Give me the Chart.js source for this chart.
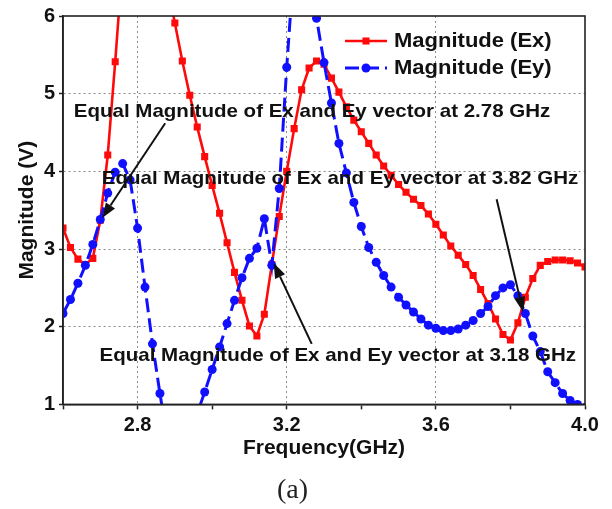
<!DOCTYPE html>
<html><head><meta charset="utf-8">
<script src="https://cdn.jsdelivr.net/npm/chart.js@4.4.0/dist/chart.umd.min.js"></script>
<style>html,body{margin:0;padding:0;background:#fff;}#wrap{width:612px;height:509px;}</style>
</head><body><div id="wrap"><canvas id="c" width="612" height="509"></canvas></div>
<script>
// ---- data ----
const freq = [2.60,2.62,2.64,2.66,2.68,2.70,2.72,2.74,2.76,2.78,2.80,2.82,2.84,2.86,2.88,2.90,2.92,2.94,2.96,2.98,
  3.00,3.02,3.04,3.06,3.08,3.10,3.12,3.14,3.16,3.18,3.20,3.22,3.24,3.26,3.28,3.30,3.32,3.34,3.36,3.38,
  3.40,3.42,3.44,3.46,3.48,3.50,3.52,3.54,3.56,3.58,3.60,3.62,3.64,3.66,3.68,3.70,3.72,3.74,3.76,3.78,
  3.80,3.82,3.84,3.86,3.88,3.90,3.92,3.94,3.96,3.98,4.00];
const exMag = [3.27,3.02,2.87,2.80,2.88,3.37,4.21,5.41,6.7,7.3,7.6,7.6,7.3,6.9,6.4,5.91,5.42,4.98,4.57,4.19,
  3.82,3.46,3.08,2.70,2.34,2.01,1.88,2.16,2.80,3.42,4.00,4.55,5.05,5.33,5.42,5.38,5.20,5.02,4.83,4.66,
  4.51,4.36,4.21,4.07,3.95,3.83,3.73,3.64,3.56,3.45,3.32,3.18,3.04,2.92,2.80,2.66,2.48,2.30,2.10,1.90,
  1.83,2.05,2.38,2.62,2.79,2.84,2.86,2.86,2.85,2.82,2.77];
const eyMag = [2.17,2.35,2.56,2.79,3.06,3.38,3.72,3.99,4.10,3.89,3.27,2.51,1.78,1.14,0.55,0.2,0.05,0.2,0.88,1.16,
  1.45,1.74,2.04,2.34,2.63,2.88,3.01,3.39,2.79,3.78,5.34,6.7,7.1,6.5,5.97,5.40,4.88,4.36,3.98,3.60,
  3.29,3.02,2.83,2.66,2.51,2.38,2.28,2.19,2.10,2.02,1.98,1.95,1.95,1.97,2.02,2.08,2.17,2.26,2.40,2.50,
  2.54,2.40,2.17,1.88,1.68,1.42,1.28,1.14,1.05,1.00,0.96];
const seriesNames = ['Magnitude (Ex)','Magnitude (Ey)'];
const xTickLabels = ['2.8','3.2','3.6','4.0'];
const yTickLabels = ['1','2','3','4','5','6'];
const xTitle = 'Frequency(GHz)';
const yTitle = 'Magnitude (V)';
const caption = '(a)';
const annoTexts = ['Equal Magnitude of Ex and Ey vector at 2.78 GHz',
  'Equal Magnitude of Ex and Ey vector at 3.82 GHz',
  'Equal Magnitude of Ex and Ey vector at 3.18 GHz'];
const annoFreq = [3.268, 3.343, 3.337];
const annoMag = [4.77, 3.91, 1.63];
const arrowFromFreq = [2.874, 3.763, 3.267];
const arrowFromMag = [4.62, 3.64, 1.78];
const arrowToFreq = [2.705, 3.834, 3.165];
const arrowToMag = [3.40, 2.19, 2.82];

const FONT = '"Liberation Sans", Arial, sans-serif';
const toXY = (ys) => freq.map((f,i)=>({x:f, y:ys[i]}));

const overlay = {
  id:'overlay',
  afterDatasetsDraw(chart){
    const {ctx, chartArea:a, scales:{x,y}} = chart;
    ctx.save();
    ctx.strokeStyle='#222'; ctx.lineWidth=1.6; ctx.setLineDash([]);
    ctx.strokeRect(a.left, a.top, a.right-a.left, a.bottom-a.top);
    ctx.fillStyle='#111';
    ctx.font='bold 19px '+FONT;
    ctx.textAlign='center'; ctx.textBaseline='middle';
    annoTexts.forEach((t,i)=>{
      const px=x.getPixelForValue(annoFreq[i]), py=y.getPixelForValue(annoMag[i]);
      ctx.save(); ctx.translate(px,py); ctx.scale(1.08,1); ctx.fillText(t,0,0); ctx.restore();
    });
    ctx.strokeStyle='#111'; ctx.fillStyle='#111'; ctx.lineWidth=2;
    for(let i=0;i<arrowFromFreq.length;i++){
      const x0=x.getPixelForValue(arrowFromFreq[i]), y0=y.getPixelForValue(arrowFromMag[i]);
      const x1=x.getPixelForValue(arrowToFreq[i]), y1=y.getPixelForValue(arrowToMag[i]);
      const ang=Math.atan2(y1-y0,x1-x0), hl=15, hw=5.5;
      const bx=x1-hl*Math.cos(ang), by=y1-hl*Math.sin(ang);
      ctx.beginPath(); ctx.moveTo(x0,y0); ctx.lineTo(bx,by); ctx.stroke();
      ctx.beginPath(); ctx.moveTo(x1,y1);
      ctx.lineTo(bx+hw*Math.sin(ang), by-hw*Math.cos(ang));
      ctx.lineTo(bx-hw*Math.sin(ang), by+hw*Math.cos(ang));
      ctx.closePath(); ctx.fill();
    }
    chart.data.datasets.forEach((ds,i)=>{
      const ly=a.top+25+i*27, lx0=a.left+282, lx1=a.left+324, mx=(lx0+lx1)/2;
      ctx.strokeStyle=ds.borderColor; ctx.lineWidth=ds.borderWidth;
      ctx.setLineDash(ds.borderDash||[]);
      ctx.beginPath(); ctx.moveTo(lx0,ly); ctx.lineTo(lx1,ly); ctx.stroke();
      ctx.setLineDash([]);
      ctx.fillStyle=ds.pointBackgroundColor;
      if(ds.pointStyle==='rect'){ const s=ds.pointRadius*Math.SQRT1_2; ctx.fillRect(mx-s,ly-s,2*s,2*s); }
      else { ctx.beginPath(); ctx.arc(mx,ly,ds.pointRadius,0,Math.PI*2); ctx.fill(); }
      ctx.fillStyle='#111'; ctx.font='bold 20px '+FONT; ctx.textAlign='left'; ctx.textBaseline='middle';
      ctx.save(); ctx.translate(a.left+331,ly); ctx.scale(1.1,1); ctx.fillText(ds.label,0,0); ctx.restore();
    });
    ctx.restore();
  }
};

new Chart(document.getElementById('c'), {
  type:'line',
  data:{ datasets:[
    { label:seriesNames[0], data:toXY(exMag), borderColor:'#ff0a0a', backgroundColor:'#ff0a0a',
      pointBackgroundColor:'#ff0a0a', pointBorderWidth:0, borderWidth:2.6, pointStyle:'rect', pointRadius:5, tension:0, order:2 },
    { label:seriesNames[1], data:toXY(eyMag), borderColor:'#1010ff', backgroundColor:'#1010ff',
      pointBackgroundColor:'#1010ff', pointBorderWidth:0, borderWidth:3, borderDash:[14,6], pointStyle:'circle', pointRadius:4.5, tension:0, order:1 }
  ]},
  options:{
    responsive:false, animation:false, devicePixelRatio:1,
    layout:{ padding:{ left:0, right:27, top:16, bottom:0 } },
    plugins:{ legend:{display:false}, tooltip:{enabled:false},
      title:{ display:true, position:'bottom', text:caption, color:'#222',
        font:{ family:'"Liberation Serif", "Times New Roman", serif', size:28, weight:'normal' },
        padding:{ top:12, bottom:2 } } },
    scales:{
      x:{ type:'linear', min:2.6, max:4.0,
        afterFit:(s)=>{ s.height=57; },
        ticks:{ stepSize:0.2, autoSkip:false, maxRotation:0, color:'#111', padding:4,
          font:{ family:FONT, size:20, weight:'bold' },
          callback:(v)=>{ const s=Number(v).toFixed(1); return xTickLabels.includes(s)?s:''; } },
        grid:{ color:(c)=>{ const s=Number(c.tick.value).toFixed(1); return (xTickLabels.includes(s)&&s!=='4.0')?'#8a8a8a':'rgba(0,0,0,0)'; },
          lineWidth:1, tickColor:'#222', tickLength:5, tickBorderDash:[], tickWidth:1.5 },
        border:{ display:true, color:'#222', width:1.6, dash:[2,3] },
        title:{ display:true, text:xTitle, color:'#111', font:{ family:FONT, size:21, weight:'bold' }, padding:{top:0,bottom:1} } },
      y:{ min:1, max:6,
        afterFit:(s)=>{ s.width=63; },
        ticks:{ stepSize:1, color:'#111', padding:4,
          font:{ family:FONT, size:20, weight:'bold' },
          callback:(v)=>{ const s=String(Math.round(v)); return yTickLabels.includes(s)?s:''; } },
        grid:{ color:(c)=>{ const v=c.tick.value; return (v>1&&v<6)?'#8a8a8a':'rgba(0,0,0,0)'; },
          lineWidth:1, tickColor:'#222', tickLength:4, tickBorderDash:[], tickWidth:1.5 },
        border:{ display:true, color:'#222', width:1.6, dash:[2,3] },
        title:{ display:true, text:yTitle, color:'#111', font:{ family:FONT, size:21, weight:'bold' }, padding:{top:15,bottom:0} } }
    }
  },
  plugins:[overlay]
});
</script></body></html>
